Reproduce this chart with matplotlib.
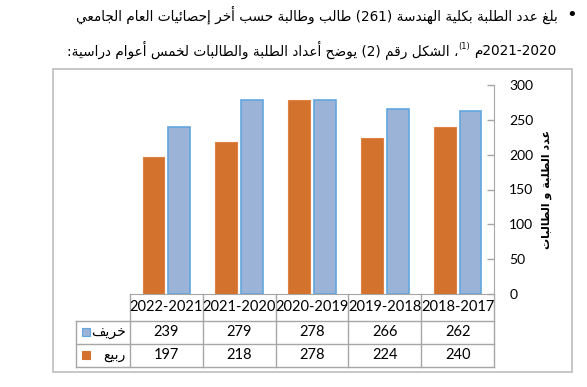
import re
import matplotlib
matplotlib.use("Agg")
import matplotlib.pyplot as plt
import matplotlib.transforms as mtransforms
from matplotlib.patches import Rectangle
import numpy as np

# data (table columns as they appear, left to right)
years = ["2022-2021", "2021-2020", "2020-2019", "2019-2018", "2018-2017"]
autumn = [239, 279, 278, 266, 262]   # خريف
spring = [197, 218, 278, 224, 240]   # ربيع
yticks = [0, 50, 100, 150, 200, 250, 300]

line1 = "بلغ عدد الطلبة بكلية الهندسة (261) طالب وطالبة حسب أخر إحصائيات العام الجامعي"
line2_a = "2020-2021م"
line2_sup = "(1)"
line2_b = "، الشكل رقم (2) يوضح أعداد الطلبة والطالبات لخمس أعوام دراسية:"
ylabel = "عدد الطلبة و الطالبات"
autumn_label = "خريف"
spring_label = "ربيع"

ORANGE = "#D3722D"
BLUE = "#9BB3D7"
GRID = "#A6A6A6"

# matplotlib does no arabic shaping, so pick the presentation forms by hand
DUAL = {0x0626: 0xFE89, 0x0628: 0xFE8F, 0x062A: 0xFE95, 0x062B: 0xFE99, 0x062C: 0xFE9D,
        0x062D: 0xFEA1, 0x062E: 0xFEA5, 0x0633: 0xFEB1, 0x0634: 0xFEB5, 0x0635: 0xFEB9,
        0x0636: 0xFEBD, 0x0637: 0xFEC1, 0x0638: 0xFEC5, 0x0639: 0xFEC9, 0x063A: 0xFECD,
        0x0641: 0xFED1, 0x0642: 0xFED5, 0x0643: 0xFED9, 0x0644: 0xFEDD, 0x0645: 0xFEE1,
        0x0646: 0xFEE5, 0x0647: 0xFEE9, 0x064A: 0xFEF1}
RIGHT = {0x0622: 0xFE81, 0x0623: 0xFE83, 0x0624: 0xFE85, 0x0625: 0xFE87, 0x0627: 0xFE8D,
         0x0629: 0xFE93, 0x062F: 0xFEA9, 0x0630: 0xFEAB, 0x0631: 0xFEAD, 0x0632: 0xFEAF,
         0x0648: 0xFEED, 0x0649: 0xFEEF}
LAM_ALEF = {0x0622: 0xFEF5, 0x0623: 0xFEF7, 0x0625: 0xFEF9, 0x0627: 0xFEFB}
MIRROR = {"(": ")", ")": "("}


def shape(s):
    codes = [ord(c) for c in s]
    units = []
    i = 0
    while i < len(codes):
        if codes[i] == 0x0644 and i + 1 < len(codes) and codes[i + 1] in LAM_ALEF:
            units.append(("la", codes[i + 1]))
            i += 2
        else:
            units.append(("c", codes[i]))
            i += 1
    out = []
    for k, (kind, c) in enumerate(units):
        prev = units[k - 1] if k > 0 else None
        nxt = units[k + 1] if k + 1 < len(units) else None
        join_prev = prev is not None and prev[0] == "c" and prev[1] in DUAL
        if kind == "la":
            out.append(chr(LAM_ALEF[c] + (1 if join_prev else 0)))
            continue
        join_next = nxt is not None and (nxt[0] == "la" or nxt[1] in DUAL or nxt[1] in RIGHT)
        if c in DUAL:
            base = DUAL[c]
            if join_prev and join_next:
                out.append(chr(base + 3))
            elif join_prev:
                out.append(chr(base + 1))
            elif join_next:
                out.append(chr(base + 2))
            else:
                out.append(chr(base))
        elif c in RIGHT:
            out.append(chr(RIGHT[c] + (1 if join_prev else 0)))
        else:
            out.append(chr(c))
    return "".join(out)


def rtl(s):
    runs = re.findall(r"[0-9]+|[^0-9]+", shape(s))
    out = []
    for r in reversed(runs):
        if r[0].isdigit():
            out.append(r)
        else:
            out.append("".join(MIRROR.get(c, c) for c in reversed(r)))
    return "".join(out)


plt.rcParams["font.family"] = ["DejaVu Sans"]
fig = plt.figure(figsize=(5.87, 3.87), dpi=100)
W, H = 587, 387

# overlay in pixel units (y down) for page text and frame
page = fig.add_axes([0, 0, 1, 1])
page.set_xlim(0, W)
page.set_ylim(H, 0)
page.axis("off")

page.add_patch(Rectangle((52.5, 69), 519.5, 303, fill=False, edgecolor="#BDBDBD", lw=1.2))
page.text(572, 15, "\u2022", fontsize=13, ha="center", va="center", color="black")

t1 = page.text(558, 20, rtl(line1), fontsize=11, ha="right", va="baseline", color="black")
fig.canvas.draw()
fs = 11 * 480 / t1.get_window_extent().width
t1.set_fontsize(fs)


def left_edge(t):
    fig.canvas.draw()
    bb = t.get_window_extent()
    return page.transData.inverted().transform((bb.x0, bb.y0))[0]


ta = page.text(556, 55, rtl(line2_a), fontsize=fs, ha="right", va="baseline")
tsup = page.text(left_edge(ta) - 4, 49, rtl(line2_sup), fontsize=fs * 0.6,
                 ha="right", va="baseline")
tb = page.text(left_edge(tsup), 55, rtl(line2_b), fontsize=fs, ha="right", va="baseline")

# chart
ax = fig.add_axes([130 / W, 1 - 294 / H, 364 / W, 209 / H])
x = np.arange(len(years))
off, bw = 0.178, 0.30
ax.bar(x - off, spring, bw, color=ORANGE, edgecolor="#DE8245", lw=0.8, zorder=3)
ax.bar(x + off, autumn, bw, color=BLUE, edgecolor="#62A6DE", lw=1.2, zorder=3)

ax.set_xlim(-0.5, len(years) - 0.5)
ax.set_ylim(0, 300)
ax.set_yticks(yticks)
ax.yaxis.tick_right()
ax.tick_params(axis="y", direction="in", length=5, width=1, color=GRID, pad=11,
               labelsize=10, labelcolor="black")
ax.tick_params(axis="x", bottom=False, labelbottom=False)
for s in ["top", "left"]:
    ax.spines[s].set_visible(False)
for s in ["right", "bottom"]:
    ax.spines[s].set_color(GRID)
for lab in ax.get_yticklabels():
    lab.set_family(["Lato", "DejaVu Sans"])

ax.text(1.145, 0.5, rtl(ylabel), transform=ax.transAxes, rotation=90, ha="center",
        va="center", fontsize=8, fontweight="bold")

# data table under the plot, columns lined up with the categories
tr = mtransforms.blended_transform_factory(ax.transData, ax.transAxes)
rows_y = [0, -0.128, -0.237, -0.347]
lab_left = -0.5 - 54 / 72.8
right = len(years) - 0.5
kw = dict(transform=tr, color=GRID, lw=1, clip_on=False)
for k in range(len(years) + 1):
    ax.plot([k - 0.5, k - 0.5], [rows_y[0], rows_y[3]], **kw)
ax.plot([lab_left, lab_left], [rows_y[1], rows_y[3]], **kw)
for yy in rows_y[1:]:
    ax.plot([lab_left, right], [yy, yy], **kw)

tfont = dict(transform=tr, ha="center", va="center", fontsize=10.5,
             family=["Lato", "DejaVu Sans"], clip_on=False)
for k, yr in enumerate(years):
    ax.text(k, (rows_y[0] + rows_y[1]) / 2, yr, **tfont)
    ax.text(k, (rows_y[1] + rows_y[2]) / 2, str(autumn[k]), **tfont)
    ax.text(k, (rows_y[2] + rows_y[3]) / 2, str(spring[k]), **tfont)

for lab, col, ec, (y0, y1) in [(autumn_label, BLUE, "#62A6DE", rows_y[1:3]),
                               (spring_label, ORANGE, ORANGE, rows_y[2:4])]:
    yc = (y0 + y1) / 2
    ax.text(-0.5 - 4 / 72.8, yc, rtl(lab), transform=tr, ha="right", va="center",
            fontsize=10, clip_on=False)
    ax.add_patch(Rectangle((lab_left + 6 / 72.8, yc - 0.018), 7.5 / 72.8, 0.036,
                           facecolor=col, edgecolor=ec, lw=0.8, transform=tr,
                           clip_on=False))

fig.savefig("out.png", dpi=100)
